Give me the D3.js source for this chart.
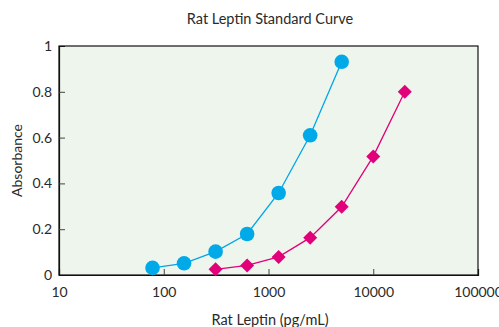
<!DOCTYPE html>
<html>
<head>
<meta charset="utf-8">
<script src="https://cdn.jsdelivr.net/npm/d3@7/dist/d3.min.js"></script>
<style>
  body { margin: 0; background: #fff; }
  text { font-family: Lato, "Open Sans", sans-serif; fill: #2a2a2a; }
</style>
</head>
<body>
<div id="chart"></div>
<script>
// standard curve: concentration (pg/mL) vs absorbance
const blueConc = [78.125, 156.25, 312.5, 625, 1250, 2500, 5000];
const blueAbs = [0.031, 0.051, 0.102, 0.179, 0.358, 0.610, 0.931];
const pinkConc = [312.5, 625, 1250, 2500, 5000, 10000, 20000];
const pinkAbs = [0.025, 0.042, 0.079, 0.163, 0.298, 0.518, 0.80];
const xTicks = [10, 100, 1000, 10000, 100000];
const yTicks = [0, 0.2, 0.4, 0.6, 0.8, 1];

const width = 499, height = 327;
const margin = { top: 46, right: 21, bottom: 52, left: 59 };

const svg = d3.select("#chart").append("svg")
  .attr("width", width)
  .attr("height", height);

const x = d3.scaleLog().domain([10, 100000]).range([margin.left, width - margin.right]);
const y = d3.scaleLinear().domain([0, 1]).range([height - margin.bottom, margin.top]);

// plot background + frame
svg.append("rect")
  .attr("x", margin.left).attr("y", margin.top)
  .attr("width", x(100000) - x(10)).attr("height", y(0) - y(1))
  .attr("fill", "#eef5ec")
  .attr("stroke", "#111").attr("stroke-width", 1.2);

// axes with inward ticks
const xAxis = svg.append("g")
  .attr("transform", `translate(0,${y(0)})`)
  .call(d3.axisBottom(x).tickValues(xTicks).tickFormat(d3.format("d")).tickSize(-6).tickPadding(12));
xAxis.select(".domain").attr("stroke", "#111").attr("stroke-width", 1.2);
xAxis.selectAll(".tick line").attr("stroke", "#444")
  .attr("display", d => (d === 10 || d === 100000) ? "none" : null);
xAxis.selectAll("text").attr("font-size", 14).attr("fill", "#2a2a2a")
  .attr("font-family", "Lato, 'Open Sans', sans-serif");

const yAxis = svg.append("g")
  .attr("transform", `translate(${margin.left},0)`)
  .call(d3.axisLeft(y).tickValues(yTicks).tickFormat(d => d === 0 || d === 1 ? d : d.toFixed(1)).tickSize(-6).tickPadding(7));
yAxis.select(".domain").attr("stroke", "#111").attr("stroke-width", 1.2);
yAxis.selectAll(".tick line").attr("stroke", "#444")
  .attr("display", d => (d === 0 || d === 1) ? "none" : null);
yAxis.selectAll("text").attr("font-size", 14).attr("fill", "#2a2a2a")
  .attr("font-family", "Lato, 'Open Sans', sans-serif");

// lines
const line = d3.line().x(d => x(d[0])).y(d => y(d[1]));
const blue = d3.zip(blueConc, blueAbs);
const pink = d3.zip(pinkConc, pinkAbs);

svg.append("path").datum(blue)
  .attr("d", line).attr("fill", "none")
  .attr("stroke", "#00a6e6").attr("stroke-width", 1.3);
svg.append("path").datum(pink)
  .attr("d", line).attr("fill", "none")
  .attr("stroke", "#e2007a").attr("stroke-width", 1.3);

// markers
svg.selectAll(".dot").data(blue).enter().append("circle")
  .attr("class", "dot")
  .attr("cx", d => x(d[0])).attr("cy", d => y(d[1]))
  .attr("r", 7.3)
  .attr("fill", "#00a9e8");

svg.selectAll(".dia").data(pink).enter().append("path")
  .attr("class", "dia")
  .attr("transform", d => `translate(${x(d[0])},${y(d[1])})`)
  .attr("d", "M0,-7L7,0L0,7L-7,0Z")
  .attr("fill", "#e2007a");

// titles
svg.append("text")
  .attr("x", 270).attr("y", 24)
  .attr("text-anchor", "middle").attr("font-size", 14.5)
  .text("Rat Leptin Standard Curve");

svg.append("text")
  .attr("x", 270).attr("y", 325)
  .attr("text-anchor", "middle").attr("font-size", 14.5)
  .text("Rat Leptin (pg/mL)");

svg.append("text")
  .attr("transform", `translate(22,${(y(0) + y(1)) / 2}) rotate(-90)`)
  .attr("text-anchor", "middle").attr("font-size", 14)
  .text("Absorbance");
</script>
</body>
</html>
